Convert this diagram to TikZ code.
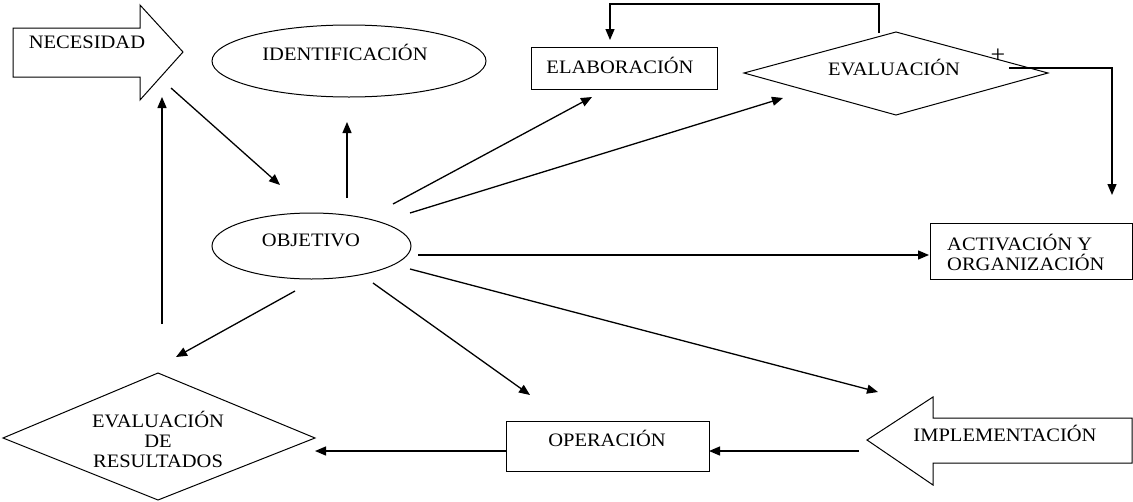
\documentclass[tikz,border=0pt]{standalone}
\usepackage{fontspec}
\setmainfont{Liberation Serif}[FakeStretch=1.08]
\usetikzlibrary{arrows.meta}
\begin{document}
\begin{tikzpicture}[x=1pt,y=-1pt,
  shp/.style={draw, line width=1pt, line join=miter},
  conn/.style={line width=1.3pt, -{Triangle[length=11pt,width=9pt]}},
  lbl/.style={font=\fontsize{19}{20}\selectfont, inner sep=0pt, align=center},
]
\useasboundingbox (0,0) rectangle (1133,501);
\fill[white] (0,0) rectangle (1133,501);

% ---- shapes ----
% NECESIDAD block arrow
\draw[shp] (13,28) -- (140,28) -- (140,5) -- (183,52) -- (140,100) -- (140,77) -- (13,77) -- cycle;
\node[lbl] (nec) at (87,42) {NECESIDAD};
% IDENTIFICACION ellipse
\draw[shp] (349,61) ellipse [x radius=137pt, y radius=36pt];
\node[lbl] (ident) at (345,52) {IDENTIFICACIÓN};
% OBJETIVO ellipse
\draw[shp] (311.5,246) ellipse [x radius=99.5pt, y radius=33pt];
\node[lbl] (obj) at (311,240) {OBJETIVO};
% ELABORACION box
\draw[shp] (531,47) rectangle (717,89);
\node[lbl] (elab) at (620,65) {ELABORACIÓN};
% EVALUACION diamond
\draw[shp] (744,73) -- (896,32) -- (1048,73) -- (896,115) -- cycle;
\node[lbl] (eval) at (894,67) {EVALUACIÓN};
\node[font=\fontsize{24}{24}\selectfont, inner sep=0pt] (plus) at (998,56) {+};
% ACTIVACION box
\draw[shp] (930,223) rectangle (1132,279);
\node[lbl, align=left, anchor=west] (activ) at (947,252) {ACTIVACIÓN Y\\ORGANIZACIÓN};
% OPERACION box
\draw[shp] (506,421) rectangle (709,471);
\node[lbl] (oper) at (607,438) {OPERACIÓN};
% IMPLEMENTACION block arrow (pointing left)
\draw[shp] (1132,418) -- (933,418) -- (933,397) -- (867,440) -- (933,485) -- (933,463) -- (1132,463) -- cycle;
\node[lbl] (impl) at (1005,433) {IMPLEMENTACIÓN};
% EVALUACION DE RESULTADOS diamond
\draw[shp] (3,438) -- (158,373) -- (315,438) -- (158,500) -- cycle;
\node[lbl] (evres) at (158,439) {EVALUACIÓN\\DE\\RESULTADOS};

% ---- connector end points ----
\coordinate (c1s) at (171,88);   \coordinate (c1e) at (280,185);
\coordinate (c2s) at (162,324);  \coordinate (c2e) at (162,97);
\coordinate (c3s) at (347,198);  \coordinate (c3e) at (347,122);
\coordinate (c4s) at (393,204);  \coordinate (c4e) at (592,97);
\coordinate (c5s) at (410,213);  \coordinate (c5e) at (783,98);
\coordinate (c6s) at (418,255);  \coordinate (c6e) at (929,255);
\coordinate (c7s) at (410,269);  \coordinate (c7e) at (878,392);
\coordinate (c8s) at (373,283);  \coordinate (c8e) at (530,395);
\coordinate (c9s) at (295,291);  \coordinate (c9e) at (176,357);
\coordinate (c10s) at (859,451); \coordinate (c10e) at (709,451);
\coordinate (c11s) at (506,451); \coordinate (c11e) at (315,451);
\coordinate (fbS) at (879,33);   \coordinate (fbE) at (610,40);
\coordinate (pS) at (1009,68);   \coordinate (pE) at (1112,195);

% ---- connectors ----
\draw[conn] (c1s) -- (c1e);
\draw[conn] (c2s) -- (c2e);
\draw[conn] (c3s) -- (c3e);
\draw[conn] (c4s) -- (c4e);
\draw[conn] (c5s) -- (c5e);
\draw[conn] (c6s) -- (c6e);
\draw[conn] (c7s) -- (c7e);
\draw[conn] (c8s) -- (c8e);
\draw[conn] (c9s) -- (c9e);
\draw[conn] (c10s) -- (c10e);
\draw[conn] (c11s) -- (c11e);
\draw[conn] (fbS) -- (879,4) -- (610,4) -- (fbE);
\draw[conn] (pS) -- (1112,68) -- (pE);
\end{tikzpicture}
\end{document}
